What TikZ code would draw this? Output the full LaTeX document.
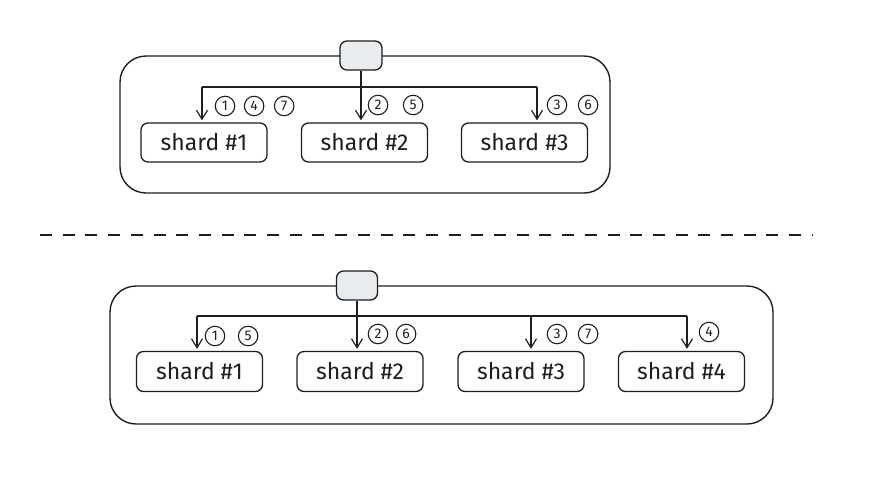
\documentclass[tikz,border=0pt]{standalone}
\usepackage{fontspec}
\setmainfont{Fira Sans}
\usetikzlibrary{positioning,arrows.meta}
\definecolor{ink}{HTML}{1E1E1E}
\definecolor{routerfill}{HTML}{E9ECEF}

\begin{document}
\begin{tikzpicture}[
  x=1pt, y=-1pt,
  group/.style={draw=ink, rounded corners=26pt, line width=1.4pt, inner sep=0pt},
  router/.style={draw=ink, fill=routerfill, rounded corners=7pt, minimum width=42pt, minimum height=29pt, inner sep=0pt, line width=1.3pt},
  shard/.style={draw=ink, rounded corners=7pt, minimum width=126pt, minimum height=39pt, inner sep=0pt, line width=1.3pt, font=\fontsize{23}{27}\selectfont, text=ink},
  req/.style={circle, draw=ink, line width=1.1pt, minimum size=19.5pt, inner sep=0pt, font=\fontsize{14}{16}\selectfont, text=ink},
  arr/.style={-{Straight Barb[length=9pt,width=11pt]}, draw=ink, line width=1.2pt, shorten >=2pt},
  bus/.style={draw=ink, line width=1.2pt},
  sep/.style={draw=ink, line width=1.4pt, dash pattern=on 12pt off 10.7pt},
]
  \useasboundingbox (0,0) rectangle (880,485);

  % Top: three shards
  \node[group, minimum width=490pt, minimum height=137pt] (g1) at (365,124.5) {};
  \node[router] (r1) at (361,55.5) {};
  \node[shard] (s11) at (204,142.5) {shard \#1};
  \node[shard] (s12) at (364.5,142.5) {shard \#2};
  \node[shard] (s13) at (524.5,142.5) {shard \#3};
  \coordinate (b11) at (202,87);
  \coordinate (b13) at (537,87);

  \draw[bus] (b11) -- (b13);
  \draw[arr] (b11) -- (b11 |- s11.north);
  \draw[arr] (r1.south) -- (r1.south |- s12.north);
  \draw[arr] (b13) -- (b13 |- s13.north);

  % Top: requests
  \node[req] (q11) at (225,106) {1};
  \node[req, right=8.5pt of q11] (q14) {4};
  \node[req, right=9.5pt of q14] (q17) {7};
  \node[req] (q12) at (378,105) {2};
  \node[req, right=14.5pt of q12] (q15) {5};
  \node[req] (q13) at (557,105) {3};
  \node[req, right=10.5pt of q13] (q16) {6};

  % Separator
  \coordinate (d1) at (40,235);
  \coordinate (d2) at (812,235);
  \draw[sep] (d1) -- (d2);

  % Bottom: four shards
  \node[group, minimum width=663pt, minimum height=138pt] (g2) at (441.5,355) {};
  \node[router, minimum width=41pt] (r2) at (357,285.5) {};
  \node[shard, minimum height=40pt] (s21) at (199.5,371.5) {shard \#1};
  \node[shard, minimum height=40pt] (s22) at (360,371.5) {shard \#2};
  \node[shard, minimum height=40pt] (s23) at (521,371.5) {shard \#3};
  \node[shard, minimum height=40pt] (s24) at (681.5,371.5) {shard \#4};
  \coordinate (b21) at (197,316);
  \coordinate (b23) at (531,316);
  \coordinate (b24) at (687,316);

  \draw[bus] (b21) -- (b24);
  \draw[arr] (b21) -- (b21 |- s21.north);
  \draw[arr] (r2.south) -- (r2.south |- s22.north);
  \draw[arr] (b23) -- (b23 |- s23.north);
  \draw[arr] (b24) -- (b24 |- s24.north);

  % Bottom: requests
  \node[req] (q21) at (215,336) {1};
  \node[req, right=12.5pt of q21] (q25) {5};
  \node[req] (q22) at (378,334) {2};
  \node[req, right=7.5pt of q22] (q26) {6};
  \node[req] (q23) at (557,334) {3};
  \node[req, right=10.5pt of q23] (q27) {7};
  \node[req] (q24) at (709,332) {4};
\end{tikzpicture}
\end{document}
